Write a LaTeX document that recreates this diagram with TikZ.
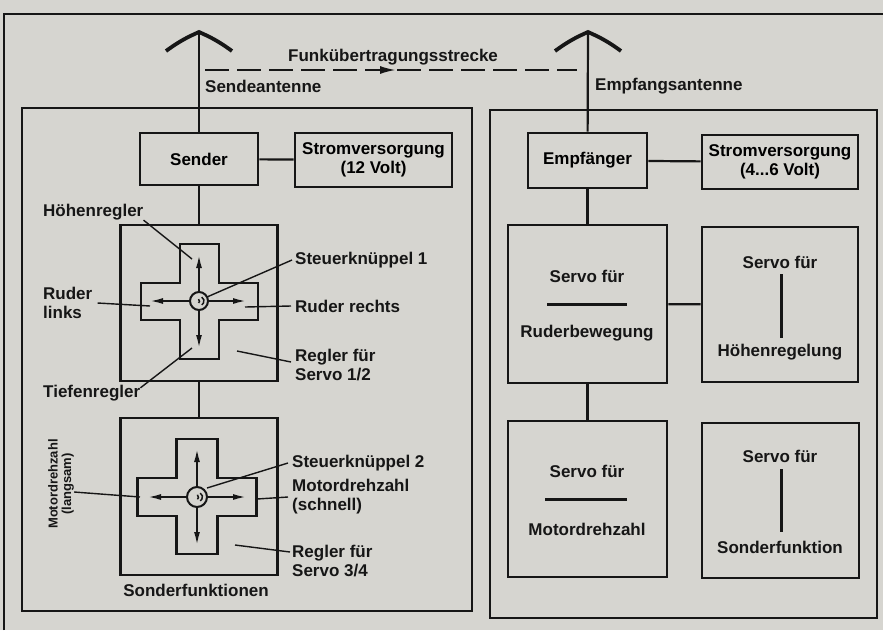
\documentclass[tikz,border=0pt]{standalone}
\usepackage{fontspec}
\setmainfont{Liberation Sans}
\usetikzlibrary{arrows.meta}
\definecolor{papier}{RGB}{214,213,208}
\definecolor{tusche}{RGB}{22,22,22}

\begin{document}
\begin{tikzpicture}[x=1pt, y=-1pt,
  font=\bfseries\fontsize{17}{19}\selectfont,
  kasten/.style={draw=tusche, line width=2.8pt, inner sep=0pt, align=center},
  rahmen/.style={draw=tusche, line width=2.2pt},
  leitung/.style={draw=tusche, line width=2.2pt},
  zeiger/.style={draw=tusche, line width=1.4pt},
  pfeil/.style={draw=tusche, line width=1.8pt, -{Latex[length=13pt,width=6pt]}},
  knueppel/.style={circle, draw=tusche, line width=2pt, minimum size=18pt, inner sep=0pt},
  txt/.style={anchor=west, inner sep=0pt, align=left, text=tusche}]
\fill[papier] (0,0) rectangle (883,630);
\useasboundingbox (0,0) rectangle (883,630);

% Rahmen
\draw[rahmen] (4,630) -- (4,14) -- (883,14);
\draw[rahmen] (22,108) rectangle (472,611);
\draw[rahmen] (490,110) rectangle (877,618);

% Antennen
\coordinate (antS) at (199,32);
\coordinate (antE) at (588,32);
\draw[tusche, line width=3.8pt] (166,51) to[bend left=6] (antS) to[bend left=6] (232,51);
\draw[tusche, line width=3.8pt] (555,51) to[bend left=6] (antE) to[bend left=6] (621,51);
\node[txt] (sendeant) at (205,86) {Sendeantenne};
\node[txt] (empfant) at (595,86) {Empfangsantenne};

% Funkstrecke
\coordinate (fsA) at (205,70);
\coordinate (fsT) at (370,70);
\coordinate (fsM) at (396,70);
\coordinate (fsE) at (577,70);
\draw[tusche, line width=1.9pt, dash pattern=on 24pt off 8pt] (fsA) -- (fsM) -- (fsE);
\draw[tusche, line width=2pt, -{Latex[length=16pt,width=8pt]}] (fsT) -- (fsM);
\node[txt] (funk) at (288,57) {Funkübertragungsstrecke};

% Sender
\node[kasten, minimum width=118pt, minimum height=52pt] (sender) at (199,159) {Sender};
\node[kasten, minimum width=157pt, minimum height=54pt] (stromS) at (373.5,160) {Stromversorgung\\(12 Volt)};
\node[kasten, minimum width=157pt, minimum height=156pt] (reglerA) at (199,303) {};
\node[kasten, minimum width=157pt, minimum height=157pt] (reglerB) at (199,496.5) {};
\draw[leitung] (antS) -- (sender);
\draw[leitung] (sender) -- (stromS);
\draw[leitung] (sender) -- (reglerA);
\draw[leitung] (reglerA) -- (reglerB);

% Steuerkreuz 1
\begin{scope}[shift={(199.5,301.5)}]
\draw[tusche, line width=2.4pt] (-19.5,-57.5) -- (19.5,-57.5) -- (19.5,-18.5) -- (58.5,-18.5) -- (58.5,18.5)
  -- (19.5,18.5) -- (19.5,57.5) -- (-19.5,57.5) -- (-19.5,18.5) -- (-58.5,18.5) -- (-58.5,-18.5) -- (-19.5,-18.5) -- cycle;
\end{scope}
\node[knueppel] (knA) at (199,301) {};
\draw[tusche, line width=1.5pt] (knA.center) ++(0.5,0) ++(-60:4.5) arc[start angle=-60, end angle=60, radius=4.5];
\draw[tusche, line width=1.5pt] (knA.center) ++(-2,0) ++(-50:2.5) arc[start angle=-50, end angle=50, radius=2.5];
\coordinate (knAo) at (199,255);
\coordinate (knAu) at (199,348);
\coordinate (knAl) at (150,301);
\coordinate (knAr) at (246,301);
\draw[pfeil] (knA) -- (knAo);
\draw[pfeil] (knA) -- (knAu);
\draw[pfeil] (knA) -- (knAl);
\draw[pfeil] (knA) -- (knAr);

\node[txt] (hoehe) at (43,212) {Höhenregler};
\node[txt] (steuer1) at (295,260) {Steuerknüppel 1};
\node[txt] (links) at (43,303) {Ruder\\links};
\node[txt] (rechts) at (295,306) {Ruder rechts};
\node[txt] (servoAB) at (295,365) {Regler für\\Servo 1/2};
\node[txt] (tiefe) at (43,393) {Tiefenregler};
\coordinate (hoeheP) at (192,259);
\coordinate (steuer1P) at (207,297);
\coordinate (linksP) at (150,306);
\coordinate (rechtsP) at (245,307);
\coordinate (servoABP) at (237,351);
\coordinate (tiefeP) at (192,348);
\draw[zeiger] (hoehe.south east) -- (hoeheP);
\draw[zeiger] ([xshift=-3pt]steuer1.west) -- (steuer1P);
\draw[zeiger] ([xshift=5pt]links.east) -- (linksP);
\draw[zeiger] ([xshift=-4pt]rechts.west) -- (rechtsP);
\draw[zeiger] ([xshift=-4pt,yshift=3pt]servoAB.west) -- (servoABP);
\draw[zeiger] ([yshift=-3pt]tiefe.north east) -- (tiefeP);

% Steuerkreuz 2
\begin{scope}[shift={(197,497)}]
\draw[tusche, line width=2.4pt] (-20.5,-58) -- (20.5,-58) -- (20.5,-19) -- (59.5,-19) -- (59.5,19)
  -- (20.5,19) -- (20.5,57) -- (-20.5,57) -- (-20.5,19) -- (-59.5,19) -- (-59.5,-19) -- (-20.5,-19) -- cycle;
\end{scope}
\node[knueppel, minimum size=20pt] (knB) at (197,497) {};
\draw[tusche, line width=1.5pt] (knB.center) ++(1,0) ++(-60:4.5) arc[start angle=-60, end angle=60, radius=4.5];
\draw[tusche, line width=1.5pt] (knB.center) ++(-1.5,0) ++(-50:3) arc[start angle=-50, end angle=50, radius=3];
\coordinate (knBo) at (197,449);
\coordinate (knBu) at (197,545);
\coordinate (knBl) at (148,497);
\coordinate (knBr) at (246,497);
\draw[pfeil] (knB) -- (knBo);
\draw[pfeil] (knB) -- (knBu);
\draw[pfeil] (knB) -- (knBl);
\draw[pfeil] (knB) -- (knBr);

\node[txt] (steuer2) at (292,463) {Steuerknüppel 2};
\node[txt] (schnell) at (292,497) {Motordrehzahl\\(schnell)};
\node[txt] (servoCD) at (292,561) {Regler für\\Servo 3/4};
\node[inner sep=0pt, align=center, rotate=90, text=tusche, font=\bfseries\fontsize{13}{13.5}\selectfont] (langsam) at (61,484) {Motordrehzahl\\(langsam)};
\node[text=tusche, inner sep=0pt] (sonder) at (196,590) {Sonderfunktionen};
\coordinate (steuer2P) at (207,488);
\coordinate (schnellP) at (257,499);
\coordinate (servoCDP) at (235,545);
\coordinate (langsamP) at (140,497);
\draw[zeiger] ([xshift=-4pt]steuer2.west) -- (steuer2P);
\draw[zeiger] ([xshift=-4pt]schnell.west) -- (schnellP);
\draw[zeiger] ([xshift=-2pt,yshift=9pt]servoCD.west) -- (servoCDP);
\draw[zeiger] ([yshift=-8pt]langsam.south) -- (langsamP);

% Empfaenger
\node[kasten, minimum width=119pt, minimum height=55pt] (empf) at (587.5,160.5) {Empfänger};
\node[kasten, minimum width=156pt, minimum height=54pt] (stromE) at (780,162) {Stromversorgung\\(4...6 Volt)};
\node[kasten, minimum width=159pt, minimum height=158pt] (servoR) at (587.5,304) {};
\node[kasten, minimum width=156pt, minimum height=155pt] (servoH) at (780,304.5) {};
\node[kasten, minimum width=159pt, minimum height=156pt] (servoM) at (587.5,499) {};
\node[kasten, minimum width=157pt, minimum height=155pt] (servoS) at (780.5,500.5) {};
\draw[leitung] (antE) -- (empf);
\draw[leitung] (empf) -- (stromE);
\draw[leitung] (empf) -- (servoR);
\draw[leitung] (servoR) -- (servoH);
\draw[leitung] (servoR) -- (servoM);

% Servos
\node[text=tusche] (srA) at (587,276) {Servo für};
\draw[tusche, line width=3pt] (547,304) -- (627,304);
\node[text=tusche] (srB) at (587,333) {Ruderbewegung};
\node[text=tusche] (shA) at (780,262) {Servo für};
\draw[tusche, line width=3pt] (781,274) -- (781,338);
\node[text=tusche] (shB) at (780,352) {Höhenregelung};
\node[text=tusche] (smA) at (587,471) {Servo für};
\draw[tusche, line width=3pt] (545,499) -- (627,499);
\node[text=tusche] (smB) at (587,529) {Motordrehzahl};
\node[text=tusche] (ssA) at (780,456) {Servo für};
\draw[tusche, line width=3pt] (781,469) -- (781,532);
\node[text=tusche] (ssB) at (780,547) {Sonderfunktion};
\end{tikzpicture}
\end{document}
